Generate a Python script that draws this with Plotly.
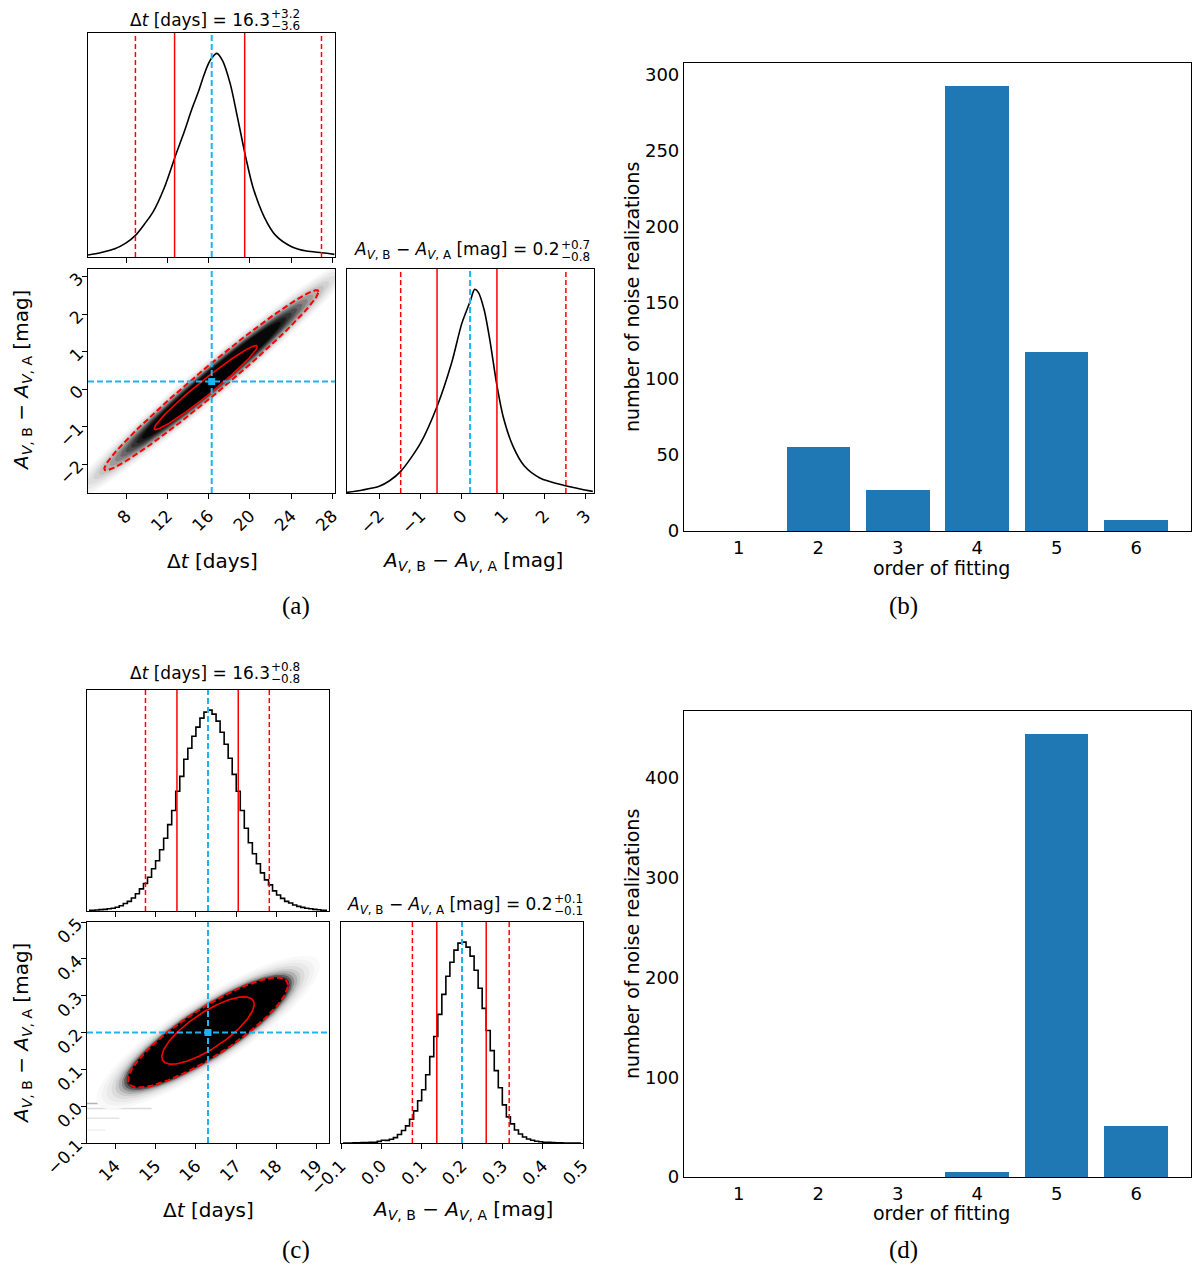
import numpy as np
import plotly.graph_objects as go

W, H = 1200, 1278          # browser window / reference size
OFF = 8                    # default page margin around the plot div
FIG_W, FIG_H = W - 2 * OFF, H - 2 * OFF

RED = "#ff0000"
CYAN = "#1eb4f0"
BAR = "#1f77b4"
SANS = "DejaVu Sans"
SERIF = "Liberation Serif"

TRUTH_DT = 16.3
TRUTH_AV = 0.2

# ---- panel (a): broad posterior (marginals normalised to peak = 1) ----
dt_a_x = [4.3, 5.5, 6.9, 8.0, 8.9, 9.8, 10.6, 11.7, 12.8, 13.6, 14.4, 15.0, 15.5, 15.9,
          16.3, 16.8, 17.35, 18.1, 18.8, 19.6, 20.3, 21.4, 22.5, 24.0, 25.5, 27.0, 28.2]
dt_a_h = [0.010, 0.021, 0.040, 0.069, 0.106, 0.163, 0.22, 0.34, 0.50, 0.61, 0.73, 0.81, 0.886, 0.94,
          0.977, 1.0, 0.964, 0.85, 0.686, 0.49, 0.343, 0.196, 0.106, 0.052, 0.029, 0.021, 0.013]
av_a_x = [-2.78, -2.4, -2.0, -1.75, -1.48, -1.0, -0.6, -0.25, 0.0, 0.2, 0.31, 0.4, 0.54,
          0.68, 0.84, 1.0, 1.24, 1.52, 1.89, 2.51, 3.17]
av_a_h = [0.003, 0.015, 0.033, 0.06, 0.106, 0.245, 0.425, 0.637, 0.833, 0.94, 1.0, 0.985, 0.90,
          0.75, 0.54, 0.376, 0.229, 0.131, 0.074, 0.036, 0.008]
dt_a_q = [8.9, 12.7, 19.5, 26.95]        # dashed, solid, solid, dashed
av_a_q = [-1.48, -0.6, 0.85, 2.52]
# contour ellipses: centre x, centre y, half extent x, half extent y, correlation
ell_a_outer = [16.27, 0.235, 10.39, 2.40, 0.982]
ell_a_inner = [15.72, 0.04, 5.0, 1.12, 0.975]
# density shading: ellipse scale (relative to outer contour) and grey level
shade_a_scale = [1.40, 1.31, 1.23, 1.16, 1.10, 1.05, 1.00, 0.95, 0.90, 0.85, 0.80, 0.75, 0.70, 0.65]
shade_a_gray = ["#f8f8f8", "#f1f1f1", "#e9e9e9", "#dfdfdf", "#d2d2d2", "#c3c3c3", "#b2b2b2",
                "#9c9c9c", "#838383", "#686868", "#4d4d4d", "#333333", "#1c1c1c", "#080808"]

# ---- panel (c): narrow posterior, stepped histograms ----
dt_c_start, dt_c_bin = 13.3, 0.1
dt_c_h = [0.003, 0.004, 0.005, 0.007, 0.008, 0.011, 0.014, 0.019, 0.026, 0.037,
          0.048, 0.065, 0.086, 0.11, 0.137, 0.168, 0.21, 0.25, 0.305, 0.362,
          0.43, 0.50, 0.596, 0.67, 0.755, 0.81, 0.87, 0.915, 0.96, 0.99,
          1.0, 0.98, 0.945, 0.89, 0.83, 0.76, 0.68, 0.596, 0.50, 0.412,
          0.34, 0.285, 0.235, 0.19, 0.155, 0.13, 0.10, 0.08, 0.063, 0.048,
          0.04, 0.03, 0.023, 0.018, 0.014, 0.011, 0.008, 0.006, 0.004, 0.003]
av_c_start, av_c_bin = -0.1, 0.01
av_c_h = [0.0, 0.0, 0.0, 0.001, 0.001, 0.002, 0.002, 0.003, 0.004, 0.008,
          0.014, 0.013, 0.019, 0.027, 0.042, 0.062, 0.085, 0.118, 0.16, 0.21,
          0.265, 0.34, 0.43, 0.53, 0.64, 0.74, 0.83, 0.9, 0.96, 0.995,
          1.0, 0.975, 0.93, 0.86, 0.77, 0.67, 0.56, 0.46, 0.36, 0.275,
          0.19, 0.13, 0.095, 0.065, 0.045, 0.03, 0.02, 0.014, 0.009, 0.006,
          0.004, 0.003, 0.002, 0.001, 0.001, 0.0, 0.0, 0.0, 0.0, 0.0]
dt_c_q = [14.75, 15.53, 17.05, 17.82]
av_c_q = [0.077, 0.1375, 0.26, 0.317]
ell_c_outer = [16.3, 0.2, 1.98, 0.149, 0.86]
ell_c_inner = [16.3, 0.2055, 1.145, 0.0915, 0.78]
shade_c_scale = [1.40, 1.33, 1.27, 1.21, 1.16, 1.12, 1.08, 1.05, 1.02, 1.0]
shade_c_gray = ["#f9f9f9", "#f2f2f2", "#e9e9e9", "#dcdcdc", "#cacaca", "#b0b0b0",
                "#8c8c8c", "#5c5c5c", "#2a2a2a", "#000000"]
# faint horizontal streaks in the lower left of the 2D density (c)
streak_y = [0.007, -0.006, -0.033, -0.065]
streak_x1 = [14.5, 14.9, 14.1, 13.75]
streak_gray = ["#b4b4b4", "#dadada", "#e4e4e4", "#f0f0f0"]

# ---- panels (b) and (d): chosen fitting order ----
orders = [1, 2, 3, 4, 5, 6]
counts_b = [0, 55, 27, 293, 118, 7]
counts_d = [0, 0, 0, 5, 444, 51]

# axis boxes in window pixels: left, right, top, bottom
BOX = {
    "": (88, 335, 33, 257),      # (a) dt marginal
    "2": (88, 335, 269, 493),    # (a) 2D
    "3": (347, 594, 269, 493),   # (a) A marginal
    "4": (684, 1191, 63, 531),   # (b)
    "5": (87, 329, 690, 911),    # (c) dt marginal
    "6": (87, 329, 922, 1143),   # (c) 2D
    "7": (341, 583, 922, 1143),  # (c) A marginal
    "8": (684, 1191, 711, 1177), # (d)
}


def fx(px):
    return min(1.0, max(0.0, (px - OFF) / FIG_W))


def fy(py):
    return min(1.0, max(0.0, 1 - (py - OFF) / FIG_H))


def ellipse(p, s=1.0):
    cx, cy, ax, ay, rho = p
    t = np.linspace(0, 2 * np.pi, 241)
    return (cx + s * ax * np.cos(t),
            cy + s * ay * (rho * np.cos(t) + np.sqrt(1 - rho ** 2) * np.sin(t)))


fig = go.Figure()


def line(xs, ys, ax, color="black", width=1.5, dash="solid", shape="linear"):
    fig.add_trace(go.Scatter(x=xs, y=ys, mode="lines", xaxis="x" + ax, yaxis="y" + ax,
                             line=dict(color=color, width=width, dash=dash, shape=shape,
                                       smoothing=0.8 if shape == "spline" else None),
                             hoverinfo="skip", showlegend=False))


def marginal(ax, xs, hs, quants, truth, shape):
    line(xs, hs, ax, width=1.6, shape=shape)
    for i, q in enumerate(quants):
        line([q, q], [0, 1.1], ax, RED, 1.5, "solid" if i in (1, 2) else "5px,3px")
    line([truth, truth], [0, 1.1], ax, CYAN, 2, "6px,3px")


def density(ax, outer, inner, scales, grays, xr, yr, fill_inner):
    for s, g in zip(scales, grays):
        ex, ey = ellipse(outer, s)
        fig.add_trace(go.Scatter(x=ex, y=ey, mode="lines", fill="toself", fillcolor=g,
                                 line=dict(width=0, color=g), xaxis="x" + ax, yaxis="y" + ax,
                                 hoverinfo="skip", showlegend=False))
    if fill_inner:
        ex, ey = ellipse(inner)
        fig.add_trace(go.Scatter(x=ex, y=ey, mode="lines", fill="toself", fillcolor="black",
                                 line=dict(width=0), xaxis="x" + ax, yaxis="y" + ax,
                                 hoverinfo="skip", showlegend=False))
    ex, ey = ellipse(outer)
    line(ex, ey, ax, RED, 2, "6px,3px")
    ex, ey = ellipse(inner)
    line(ex, ey, ax, RED, 1.6)
    line([TRUTH_DT, TRUTH_DT], yr, ax, CYAN, 2, "6px,3px")
    line(xr, [TRUTH_AV, TRUTH_AV], ax, CYAN, 2, "6px,3px")
    fig.add_trace(go.Scatter(x=[TRUTH_DT], y=[TRUTH_AV], mode="markers", xaxis="x" + ax,
                             yaxis="y" + ax, marker=dict(symbol="square", size=7, color=CYAN),
                             hoverinfo="skip", showlegend=False))


# ranges
xr_a, yr_a = [4.3, 28.26], [-2.77, 3.2]
xr_c, yr_c = [13.3, 19.3], [-0.1, 0.5]

# (a)
marginal("", dt_a_x, dt_a_h, dt_a_q, TRUTH_DT, "spline")
density("2", ell_a_outer, ell_a_inner, shade_a_scale, shade_a_gray, xr_a, yr_a, True)
marginal("3", av_a_x, av_a_h, av_a_q, TRUTH_AV, "spline")

# (c)
dt_c_x = [dt_c_start + dt_c_bin * (i + 0.5) for i in range(len(dt_c_h))]
av_c_x = [av_c_start + av_c_bin * (i + 0.5) for i in range(len(av_c_h))]
marginal("5", dt_c_x, dt_c_h, dt_c_q, TRUTH_DT, "hvh")
for y0, x1, g in zip(streak_y, streak_x1, streak_gray):
    line([xr_c[0], x1], [y0, y0], "6", g, 1.5)
density("6", ell_c_outer, ell_c_inner, shade_c_scale, shade_c_gray, xr_c, yr_c, False)
marginal("7", av_c_x, av_c_h, av_c_q, TRUTH_AV, "hvh")

# (b), (d)
for ax, counts in (("4", counts_b), ("8", counts_d)):
    fig.add_trace(go.Bar(x=orders, y=counts, width=0.8, marker=dict(color=BAR, line=dict(width=0)),
                         xaxis="x" + ax, yaxis="y" + ax, hoverinfo="skip", showlegend=False))

base = dict(showline=True, linecolor="black", linewidth=1.2, mirror=True, showgrid=False,
            zeroline=False, ticks="outside", ticklen=5, tickwidth=1.1, tickcolor="black",
            tickfont=dict(family=SANS, size=17, color="black"), fixedrange=True,
            automargin=False)
BAR_FONT = dict(family=SANS, size=18, color="black")

axes_cfg = {
    "": (dict(range=xr_a, tickvals=[8, 12, 16, 20, 24, 28], showticklabels=False),
         dict(range=[0, 1.1], ticks="", showticklabels=False)),
    "2": (dict(range=xr_a, tickvals=[8, 12, 16, 20, 24, 28], tickangle=-45),
          dict(range=yr_a, tickvals=[-2, -1, 0, 1, 2, 3], tickangle=-45)),
    "3": (dict(range=[-2.78, 3.2], tickvals=[-2, -1, 0, 1, 2, 3], tickangle=-45),
          dict(range=[0, 1.1], ticks="", showticklabels=False)),
    "4": (dict(range=[0.31, 6.69], tickvals=orders, ticks="", tickfont=BAR_FONT),
          dict(range=[0, 308], tickvals=[0, 50, 100, 150, 200, 250, 300], ticks="",
               tickfont=BAR_FONT)),
    "5": (dict(range=xr_c, tickvals=[14, 15, 16, 17, 18, 19], showticklabels=False),
          dict(range=[0, 1.1], ticks="", showticklabels=False)),
    "6": (dict(range=xr_c, tickvals=[14, 15, 16, 17, 18, 19], tickangle=-45),
          dict(range=yr_c, tickvals=[-0.1, 0.0, 0.1, 0.2, 0.3, 0.4, 0.5], tickformat=".1f",
               tickangle=-45)),
    "7": (dict(range=[-0.1, 0.5], tickvals=[-0.1, 0.0, 0.1, 0.2, 0.3, 0.4, 0.5], tickformat=".1f",
               tickangle=-45),
          dict(range=[0, 1.1], ticks="", showticklabels=False)),
    "8": (dict(range=[0.31, 6.69], tickvals=orders, ticks="", tickfont=BAR_FONT),
          dict(range=[0, 467], tickvals=[0, 100, 200, 300, 400], ticks="", tickfont=BAR_FONT)),
}

layout = {}
for ax, (xc, yc) in axes_cfg.items():
    l, r, t, b = BOX[ax]
    layout["xaxis" + ax] = {**base, **xc, "domain": [fx(l), fx(r)], "anchor": "y" + ax}
    layout["yaxis" + ax] = {**base, **yc, "domain": [fy(b), fy(t)], "anchor": "x" + ax}

AV_LABEL = "<i>A</i><sub><i>V</i>, B</sub> − <i>A</i><sub><i>V</i>, A</sub> [mag]"
DT_LABEL = "Δ<i>t</i> [days]"

annots = []


def text(x, y, s, size, angle=0, xanchor="center", family=SANS):
    annots.append(dict(x=fx(x), y=fy(y), xref="paper", yref="paper", text=s, showarrow=False,
                       textangle=angle, xanchor=xanchor, yanchor="middle", borderpad=0,
                       font=dict(family=family, size=size, color="black")))


# corner titles: main text + stacked upper/lower errors
titles = [
    (271, 20, DT_LABEL + " = 16.3", "+3.2", "−3.6"),
    (561, 251, AV_LABEL + " = 0.2", "+0.7", "−0.8"),
    (271, 673, DT_LABEL + " = 16.3", "+0.8", "−0.8"),
    (554, 905, AV_LABEL + " = 0.2", "+0.1", "−0.1"),
]
for x, y, main, up, lo in titles:
    text(x, y, main, 17, xanchor="right")
    text(x - 1, y - 6, up, 12, xanchor="left")
    text(x - 1, y + 6, lo, 12, xanchor="left")

# axis labels
text(212, 561, DT_LABEL, 20)
text(472, 561, AV_LABEL, 20)
text(22, 381, AV_LABEL, 20, angle=-90)
text(208, 1210, DT_LABEL, 20)
text(463, 1210, AV_LABEL, 20)
text(22, 1034, AV_LABEL, 20, angle=-90)
text(941, 568, "order of fitting", 19)
text(632, 297, "number of noise realizations", 19, angle=-90)
text(941, 1213, "order of fitting", 19)
text(632, 944, "number of noise realizations", 19, angle=-90)

# sub-figure captions
for x, y, s in ((296, 606, "(a)"), (903, 606, "(b)"), (296, 1250, "(c)"), (903, 1250, "(d)")):
    text(x, y, s, 25, family=SERIF)

fig.update_layout(
    width=FIG_W, height=FIG_H, autosize=False,
    margin=dict(l=0, r=0, t=0, b=0, pad=0, autoexpand=False),
    paper_bgcolor="white", plot_bgcolor="white",
    font=dict(family=SANS, color="black"),
    showlegend=False, bargap=0,
    annotations=annots,
    **layout,
)

fig.write_html("out.html")
